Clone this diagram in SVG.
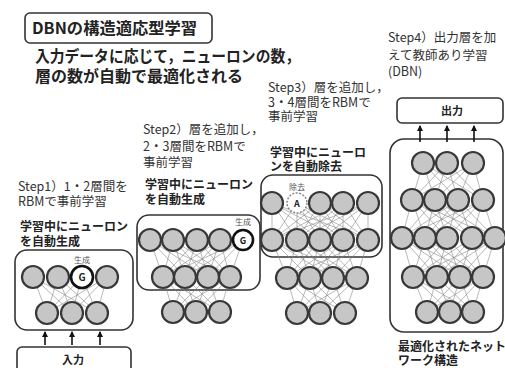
<svg xmlns="http://www.w3.org/2000/svg" width="505" height="368" viewBox="0 0 505 368">
<style>
text{font-family:"Noto Sans CJK JP","Liberation Sans",sans-serif;fill:#222}
.title{font-size:16px;font-weight:bold}
.sub{font-size:16px;font-weight:bold}
.step{font-size:12.5px;fill:#333}
.bold{font-size:12px;font-weight:bold}
.lab{font-size:11px;font-weight:bold;text-anchor:middle}
.tiny{font-size:8px;fill:#555;text-anchor:middle}
.box{fill:#fff;stroke:#333;stroke-width:1.6}
.n{fill:#c6c6c6;stroke:#383838;stroke-width:2.2}
.g{fill:#fff;stroke:#111;stroke-width:2.6}
.a{fill:#fff;stroke:#888;stroke-width:1.5;stroke-dasharray:2 1.5}
.w{fill:none;stroke:#8a8a8a;stroke-width:0.6}
.arr{stroke:#111;stroke-width:1.6;marker-end:url(#ah)}
</style>
<defs>
<marker id="ah" viewBox="0 0 6 6" refX="5" refY="3" markerWidth="4" markerHeight="4" orient="auto">
<path d="M0 0L6 3L0 6z" fill="#111"/>
</marker>
</defs>

<g id="title">
<rect class="box" x="25" y="13" width="187" height="30" rx="5"/>
<text class="title" x="32" y="34" textLength="165" lengthAdjust="spacingAndGlyphs">DBNの構造適応型学習</text>
</g>
<g id="subtitle">
<text class="sub"><tspan x="35" y="62" textLength="265" lengthAdjust="spacingAndGlyphs">入力データに応じて，ニューロンの数，</tspan><tspan x="35" y="82">層の数が自動で最適化される</tspan></text>
</g>

<g id="boxes">
<rect id="box1" class="box" x="15" y="250" width="118" height="80" rx="12"/>
<rect id="box2" class="box" x="137" y="215" width="123" height="75" rx="12"/>
<rect id="box3" class="box" x="261" y="175" width="121" height="82" rx="12"/>
<rect id="box4" class="box" x="390" y="139" width="113" height="193" rx="14"/>
<rect id="input" class="box" x="17" y="347" width="114" height="30" rx="5"/>
<rect id="output" class="box" x="397" y="98" width="106" height="25" rx="5"/>
</g>

<g id="connectors">
<path class="w" d="M33 277L47 313M33 277L72 313M33 277L97 313M58 277L47 313M58 277L72 313M58 277L97 313M82 277L47 313M82 277L72 313M82 277L97 313M107 277L47 313M107 277L72 313M107 277L97 313"/>
<path class="w" d="M150 240L163 277M150 240L185 277M150 240L208 277M150 240L230 277M173 240L163 277M173 240L185 277M173 240L208 277M173 240L230 277M197 240L163 277M197 240L185 277M197 240L208 277M197 240L230 277M220 240L163 277M220 240L185 277M220 240L208 277M220 240L230 277M243 240L163 277M243 240L185 277M243 240L208 277M243 240L230 277"/>
<path class="w" d="M163 277L173 312M163 277L196 312M163 277L220 312M185 277L173 312M185 277L196 312M185 277L220 312M208 277L173 312M208 277L196 312M208 277L220 312M230 277L173 312M230 277L196 312M230 277L220 312"/>
<path class="w" d="M272 203L272 240M272 203L297 240M272 203L320 240M272 203L343 240M272 203L368 240M297 203L272 240M297 203L297 240M297 203L320 240M297 203L343 240M297 203L368 240M320 203L272 240M320 203L297 240M320 203L320 240M320 203L343 240M320 203L368 240M343 203L272 240M343 203L297 240M343 203L320 240M343 203L343 240M343 203L368 240M368 203L272 240M368 203L297 240M368 203L320 240M368 203L343 240M368 203L368 240"/>
<path class="w" d="M272 240L287 278M272 240L310 278M272 240L333 278M272 240L357 278M297 240L287 278M297 240L310 278M297 240L333 278M297 240L357 278M320 240L287 278M320 240L310 278M320 240L333 278M320 240L357 278M343 240L287 278M343 240L310 278M343 240L333 278M343 240L357 278M368 240L287 278M368 240L310 278M368 240L333 278M368 240L357 278"/>
<path class="w" d="M287 278L297 313M287 278L320 313M287 278L345 313M310 278L297 313M310 278L320 313M310 278L345 313M333 278L297 313M333 278L320 313M333 278L345 313M357 278L297 313M357 278L320 313M357 278L345 313"/>
<path class="w" d="M423 163L412 200M423 163L435 200M423 163L458 200M423 163L483 200M447 163L412 200M447 163L435 200M447 163L458 200M447 163L483 200M473 163L412 200M473 163L435 200M473 163L458 200M473 163L483 200"/>
<path class="w" d="M412 200L402 238M412 200L425 238M412 200L447 238M412 200L472 238M412 200L495 238M435 200L402 238M435 200L425 238M435 200L447 238M435 200L472 238M435 200L495 238M458 200L402 238M458 200L425 238M458 200L447 238M458 200L472 238M458 200L495 238M483 200L402 238M483 200L425 238M483 200L447 238M483 200L472 238M483 200L495 238"/>
<path class="w" d="M402 238L413 277M402 238L437 277M402 238L460 277M402 238L483 277M425 238L413 277M425 238L437 277M425 238L460 277M425 238L483 277M447 238L413 277M447 238L437 277M447 238L460 277M447 238L483 277M472 238L413 277M472 238L437 277M472 238L460 277M472 238L483 277M495 238L413 277M495 238L437 277M495 238L460 277M495 238L483 277"/>
<path class="w" d="M413 277L427 312M413 277L450 312M413 277L473 312M437 277L427 312M437 277L450 312M437 277L473 312M460 277L427 312M460 277L450 312M460 277L473 312M483 277L427 312M483 277L450 312M483 277L473 312"/>
<line class="arr" x1="45" y1="345" x2="45" y2="332"/>
<line class="arr" x1="72" y1="345" x2="72" y2="332"/>
<line class="arr" x1="100" y1="345" x2="100" y2="332"/>
<line class="arr" x1="420" y1="142" x2="420" y2="126"/>
<line class="arr" x1="447" y1="142" x2="447" y2="126"/>
<line class="arr" x1="474" y1="142" x2="474" y2="126"/>
</g>

<g id="step1">
<text class="step"><tspan x="18" y="191">Step1）1・2層間を</tspan><tspan x="18" y="206">RBMで事前学習</tspan></text>
<text class="bold"><tspan x="20" y="231">学習中にニューロン</tspan><tspan x="20" y="246">を自動生成</tspan></text>
<text class="tiny" x="82" y="263">生成</text>
<circle class="n" cx="33" cy="277" r="11"/>
<circle class="n" cx="58" cy="277" r="11"/>
<circle class="g" cx="82" cy="277" r="11"/>
<text x="82" y="281" style="font-size:10px;font-weight:bold;text-anchor:middle">G</text>
<circle class="n" cx="107" cy="277" r="11"/>
<circle class="n" cx="47" cy="313" r="11"/>
<circle class="n" cx="72" cy="313" r="11"/>
<circle class="n" cx="97" cy="313" r="11"/>
</g>
<g id="input-label">
<text class="lab" x="73" y="364">入力</text>
</g>

<g id="step2">
<text class="step"><tspan x="143" y="134">Step2）層を追加し，</tspan><tspan x="143" y="151">2・3層間をRBMで</tspan><tspan x="143" y="167">事前学習</tspan></text>
<text class="bold"><tspan x="145" y="189">学習中にニューロン</tspan><tspan x="145" y="204">を自動生成</tspan></text>
<text class="tiny" x="243" y="225">生成</text>
<circle class="n" cx="150" cy="240" r="11"/>
<circle class="n" cx="173" cy="240" r="11"/>
<circle class="n" cx="197" cy="240" r="11"/>
<circle class="n" cx="220" cy="240" r="11"/>
<circle class="g" cx="243" cy="240" r="10"/>
<text x="243" y="244" style="font-size:9px;font-weight:bold;text-anchor:middle">G</text>
<circle class="n" cx="163" cy="277" r="11"/>
<circle class="n" cx="185" cy="277" r="11"/>
<circle class="n" cx="208" cy="277" r="11"/>
<circle class="n" cx="230" cy="277" r="11"/>
<circle class="n" cx="173" cy="312" r="11"/>
<circle class="n" cx="196" cy="312" r="11"/>
<circle class="n" cx="220" cy="312" r="11"/>
</g>

<g id="step3">
<text class="step"><tspan x="268" y="92">Step3）層を追加し，</tspan><tspan x="268" y="107">3・4層間をRBMで</tspan><tspan x="268" y="121">事前学習</tspan></text>
<text class="bold"><tspan x="270" y="157">学習中にニューロ</tspan><tspan x="270" y="171">ンを自動除去</tspan></text>
<text class="tiny" x="297" y="190">除去</text>
<circle class="n" cx="272" cy="203" r="11"/>
<circle class="a" cx="297" cy="203" r="10"/>
<text x="297" y="207" style="font-size:9px;font-weight:bold;text-anchor:middle">A</text>
<circle class="n" cx="320" cy="203" r="11"/>
<circle class="n" cx="343" cy="203" r="11"/>
<circle class="n" cx="368" cy="203" r="11"/>
<circle class="n" cx="272" cy="240" r="11"/>
<circle class="n" cx="297" cy="240" r="11"/>
<circle class="n" cx="320" cy="240" r="11"/>
<circle class="n" cx="343" cy="240" r="11"/>
<circle class="n" cx="368" cy="240" r="11"/>
<circle class="n" cx="287" cy="278" r="11"/>
<circle class="n" cx="310" cy="278" r="11"/>
<circle class="n" cx="333" cy="278" r="11"/>
<circle class="n" cx="357" cy="278" r="11"/>
<circle class="n" cx="297" cy="313" r="11"/>
<circle class="n" cx="320" cy="313" r="11"/>
<circle class="n" cx="345" cy="313" r="11"/>
</g>

<g id="step4">
<text class="step"><tspan x="388" y="42">Step4）出力層を加</tspan><tspan x="388" y="60">えて教師あり学習</tspan><tspan x="388" y="76">(DBN)</tspan></text>
<circle class="n" cx="423" cy="163" r="11"/>
<circle class="n" cx="447" cy="163" r="11"/>
<circle class="n" cx="473" cy="163" r="11"/>
<circle class="n" cx="412" cy="200" r="11"/>
<circle class="n" cx="435" cy="200" r="11"/>
<circle class="n" cx="458" cy="200" r="11"/>
<circle class="n" cx="483" cy="200" r="11"/>
<circle class="n" cx="402" cy="238" r="11"/>
<circle class="n" cx="425" cy="238" r="11"/>
<circle class="n" cx="447" cy="238" r="11"/>
<circle class="n" cx="472" cy="238" r="11"/>
<circle class="n" cx="495" cy="238" r="11"/>
<circle class="n" cx="413" cy="277" r="11"/>
<circle class="n" cx="437" cy="277" r="11"/>
<circle class="n" cx="460" cy="277" r="11"/>
<circle class="n" cx="483" cy="277" r="11"/>
<circle class="n" cx="427" cy="312" r="11"/>
<circle class="n" cx="450" cy="312" r="11"/>
<circle class="n" cx="473" cy="312" r="11"/>
<text class="bold"><tspan x="398" y="351">最適化されたネット</tspan><tspan x="398" y="365">ワーク構造</tspan></text>
</g>
<g id="output-label">
<text class="lab" x="452" y="115">出力</text>
</g>
</svg>
